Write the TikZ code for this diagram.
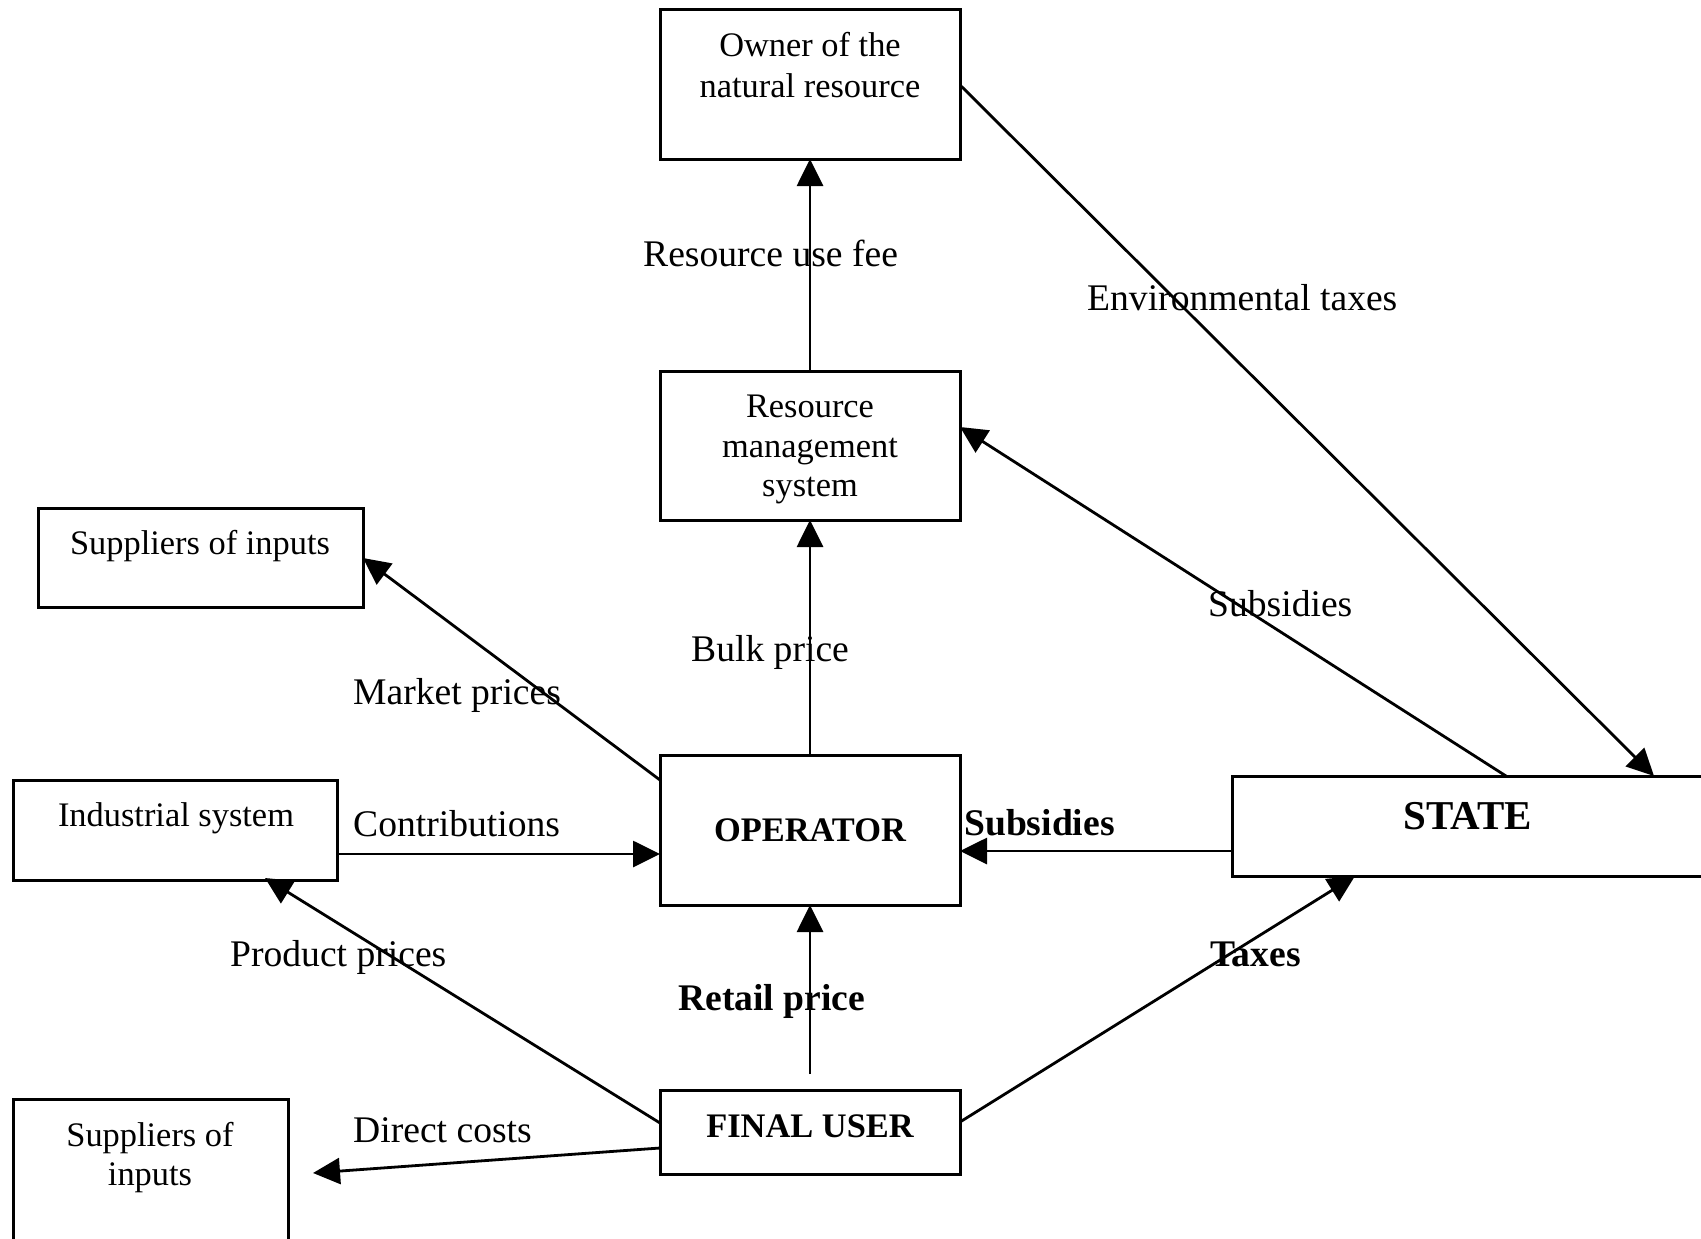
\documentclass[tikz,border=0pt]{standalone}
\usepackage{fontspec}
\setmainfont{Liberation Serif}
\usetikzlibrary{arrows.meta}
\begin{document}
\begin{tikzpicture}[x=1pt,y=-1pt,
  box/.style={draw, line width=3pt, rectangle, inner sep=0pt, outer sep=0pt},
  btxt/.style={anchor=base, inner sep=0pt, font=\fontsize{34.4pt}{40pt}\selectfont},
  btxtb/.style={anchor=base, inner sep=0pt, font=\fontsize{34.4pt}{40pt}\selectfont\bfseries},
  lbl/.style={anchor=base west, inner sep=0pt, font=\fontsize{37.6pt}{44pt}\selectfont},
  lblb/.style={anchor=base west, inner sep=0pt, font=\fontsize{37.6pt}{44pt}\selectfont\bfseries},
  arr/.style={line width=2.8pt, -{Triangle[length=27pt,width=26pt]}}]
\useasboundingbox (0,0) rectangle (1701,1239);

% boxes
\node[box, minimum width=300pt, minimum height=149pt] (owner) at (810,84.5) {};
\node[box, minimum width=300pt, minimum height=149pt] (rms) at (810,445.5) {};
\node[box, minimum width=325pt, minimum height=99pt] (sup1) at (200.5,557.5) {};
\node[box, minimum width=324pt, minimum height=100pt] (ind) at (175,830) {};
\node[box, minimum width=300pt, minimum height=150pt] (op) at (810,830) {};
\node[box, minimum width=472pt, minimum height=100pt] (state) at (1468,826) {};
\node[box, minimum width=300pt, minimum height=84pt] (fu) at (810,1132) {};
\node[box, minimum width=275pt, minimum height=161pt] (sup2) at (150.5,1179.5) {};

% box texts
\node[btxt] (owner-t1) at (810,57) {Owner of the};
\node[btxt] (owner-t2) at (810,97) {natural resource};
\node[btxt] (rms-t1) at (810,417) {Resource};
\node[btxt] (rms-t2) at (810,457) {management};
\node[btxt] (rms-t3) at (810,496) {system};
\node[btxt] (sup1-t) at (200,554) {Suppliers of inputs};
\node[btxt] (ind-t) at (176,826) {Industrial system};
\node[btxtb] (op-t) at (810,841) {OPERATOR};
\node[anchor=base, inner sep=0pt, font=\fontsize{41pt}{48pt}\selectfont\bfseries] (state-t) at (1468,829) {STATE};
\node[btxtb] (fu-t) at (810,1137) {FINAL USER};
\node[btxt] (sup2-t1) at (150,1146) {Suppliers of};
\node[btxt] (sup2-t2) at (150,1185) {inputs};

% connector end points
\coordinate (ownerR) at (960,85);
\coordinate (stateT1) at (1654,776);
\coordinate (stateT2) at (1506,776);
\coordinate (rmsR) at (960,427);
\coordinate (stateL) at (1232,851);
\coordinate (opR) at (960,851);
\coordinate (fuR) at (960,1122);
\coordinate (stateB) at (1355,876);
\coordinate (fuL1) at (660,1123);
\coordinate (indB) at (265,878);
\coordinate (fuL2) at (660,1148);
\coordinate (sup2R) at (313,1173);
\coordinate (opL1) at (660,780);
\coordinate (sup1R) at (363,558);
\coordinate (indR) at (337,854);
\coordinate (opL2) at (660,854);
\coordinate (fuT) at (810,1074);

% connectors
\draw[arr] (rms.north) -- (owner.south);
\draw[arr] (op.north) -- (rms.south);
\draw[arr] (fuT) -- (op.south);
\draw[arr] (ownerR) -- (stateT1);
\draw[arr] (stateT2) -- (rmsR);
\draw[arr] (stateL) -- (opR);
\draw[arr] (fuR) -- (stateB);
\draw[arr] (fuL1) -- (indB);
\draw[arr] (fuL2) -- (sup2R);
\draw[arr] (opL1) -- (sup1R);
\draw[arr] (indR) -- (opL2);

% labels
\node[lbl] (l-fee) at (643,266) {Resource use fee};
\node[lbl] (l-env) at (1087,310) {Environmental taxes};
\node[lbl] (l-sub1) at (1208,616) {Subsidies};
\node[lbl] (l-bulk) at (691,661) {Bulk price};
\node[lbl] (l-mkt) at (353,704) {Market prices};
\node[lbl] (l-con) at (353,836) {Contributions};
\node[lblb] (l-sub2) at (964,835) {Subsidies};
\node[lbl] (l-prod) at (230,966) {Product prices};
\node[lblb] (l-tax) at (1210,966) {Taxes};
\node[lblb] (l-ret) at (678,1010) {Retail price};
\node[lbl] (l-dir) at (353,1142) {Direct costs};
\end{tikzpicture}
\end{document}
